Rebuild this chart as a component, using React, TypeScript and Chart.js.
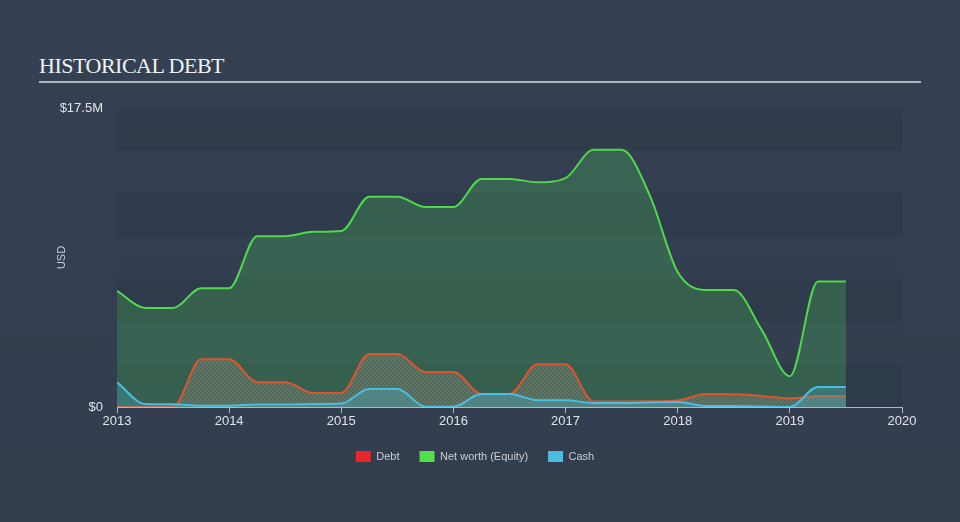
import React, { useEffect, useRef } from "react";
import { Chart, registerables } from "chart.js";

Chart.register(...registerables);

const DATES = [
  2013.0, 2013.25, 2013.5, 2013.75, 2014.0, 2014.25, 2014.5, 2014.75,
  2015.0, 2015.25, 2015.5, 2015.75, 2016.0, 2016.25, 2016.5, 2016.75,
  2017.0, 2017.25, 2017.5, 2017.75, 2018.0, 2018.25, 2018.5, 2018.75,
  2019.0, 2019.25, 2019.5,
];

const DEBT = [
  0, 0, 0, 2.8, 2.8, 1.45, 1.45, 0.82,
  0.82, 3.1, 3.1, 2.05, 2.05, 0.76, 0.76, 2.5,
  2.5, 0.32, 0.32, 0.33, 0.38, 0.76, 0.74, 0.65,
  0.5, 0.63, 0.63,
];

const NET_WORTH = [
  6.8, 5.8, 5.8, 6.95, 6.95, 10.0, 10.0, 10.25,
  10.3, 12.3, 12.3, 11.7, 11.7, 13.35, 13.35, 13.15,
  13.4, 15.05, 15.05, 12.4, 7.9, 6.85, 6.85, 4.5,
  1.8, 7.35, 7.35,
];

const CASH = [
  1.45, 0.18, 0.16, 0.08, 0.08, 0.14, 0.14, 0.17,
  0.2, 1.05, 1.05, 0.02, 0.02, 0.76, 0.76, 0.4,
  0.4, 0.23, 0.23, 0.26, 0.29, 0.06, 0.06, 0.03,
  0.0, 1.17, 1.17,
];

const X_MIN = 2013;
const X_MAX = 2020;
const Y_MAX = 17.5;
const Y_TICKS = [0, 17.5];
const BAND_STEP = 2.5;

const toPoints = (vals: number[]) => DATES.map((d, i) => ({ x: d, y: vals[i] }));

function makeHatch(): CanvasPattern | string {
  const c = document.createElement("canvas");
  c.width = 4;
  c.height = 4;
  const g = c.getContext("2d");
  if (!g) return "rgba(200,100,60,0.4)";
  g.fillStyle = "rgba(150,135,120,0.32)";
  g.fillRect(0, 0, 4, 4);
  g.strokeStyle = "rgba(215,95,55,0.72)";
  g.lineWidth = 1;
  g.beginPath();
  g.moveTo(0, 4);
  g.lineTo(4, 0);
  g.moveTo(-1, 1);
  g.lineTo(1, -1);
  g.moveTo(3, 5);
  g.lineTo(5, 3);
  g.stroke();
  const p = g.createPattern(c, "repeat");
  return p || "rgba(200,100,60,0.4)";
}

const bandsPlugin = {
  id: "bands",
  beforeDraw(chart: any) {
    const { ctx, chartArea, scales } = chart;
    const y = scales.y;
    ctx.save();
    let i = 0;
    for (let v = 0; v < Y_MAX - 1e-9; v += BAND_STEP) {
      const yb = y.getPixelForValue(v);
      const yt = y.getPixelForValue(v + BAND_STEP);
      ctx.fillStyle = i % 2 === 0 ? "rgba(25,35,50,0.13)" : "rgba(60,75,95,0.04)";
      ctx.fillRect(chartArea.left, yt, chartArea.right - chartArea.left, yb - yt);
      i++;
    }
    ctx.restore();
  },
};

export default function App() {
  const ref = useRef<HTMLCanvasElement | null>(null);

  useEffect(() => {
    if (!ref.current) return;
    const hatch = makeHatch();
    const chart = new Chart(ref.current, {
      type: "line",
      data: {
        datasets: [
          {
            label: "Debt",
            data: toPoints(DEBT),
            borderColor: "#dd5430",
            backgroundColor: hatch as any,
            borderWidth: 2,
            fill: "origin",
            pointRadius: 0,
            cubicInterpolationMode: "monotone",
            order: 2,
          },
          {
            label: "Net worth (Equity)",
            data: toPoints(NET_WORTH),
            borderColor: "#4fd84a",
            backgroundColor: "rgba(72,200,90,0.26)",
            borderWidth: 2,
            fill: "origin",
            pointRadius: 0,
            cubicInterpolationMode: "monotone",
            order: 3,
          },
          {
            label: "Cash",
            data: toPoints(CASH),
            borderColor: "#4bbde0",
            backgroundColor: "rgba(70,185,220,0.28)",
            borderWidth: 2,
            fill: "origin",
            pointRadius: 0,
            cubicInterpolationMode: "monotone",
            order: 1,
          },
        ],
      },
      options: {
        animation: false,
        responsive: false,
        maintainAspectRatio: false,
        layout: { padding: { left: 48, right: 58, top: 108, bottom: 50 } },
        plugins: {
          tooltip: { enabled: false },
          legend: {
            position: "bottom",
            labels: {
              color: "#c9ced6",
              font: { family: "Liberation Sans, Arial, sans-serif", size: 11 },
              boxWidth: 15,
              boxHeight: 11,
              padding: 20,
              generateLabels: (ch: any) =>
                ch.data.datasets.map((ds: any, i: number) => ({
                  text: ds.label,
                  fillStyle: ["#e8262a", "#4fe04a", "#4bbde0"][i],
                  strokeStyle: "transparent",
                  lineWidth: 0,
                  fontColor: "#c9ced6",
                  datasetIndex: i,
                  hidden: false,
                })),
            },
          },
        },
        scales: {
          x: {
            type: "linear",
            min: X_MIN,
            max: X_MAX,
            afterFit: (s: any) => {
              s.height = 24;
            },
            ticks: {
              stepSize: 1,
              color: "#dfe3e8",
              padding: 1,
              font: { family: "Liberation Sans, Arial, sans-serif", size: 13 },
              callback: (v: any) => String(v),
            },
            grid: {
              display: true,
              drawOnChartArea: false,
              drawTicks: true,
              tickLength: 6,
              color: "#aeb6c0",
            },
            border: { display: true, color: "#aeb6c0", width: 1 },
          },
          y: {
            min: 0,
            max: Y_MAX,
            afterFit: (s: any) => {
              s.width = 69;
            },
            afterBuildTicks: (s: any) => {
              s.ticks = Y_TICKS.map((v) => ({ value: v }));
            },
            ticks: {
              color: "#dfe3e8",
              padding: 14,
              font: { family: "Liberation Sans, Arial, sans-serif", size: 13 },
              callback: (v: any) => (Number(v) === 0 ? "$0" : `$${v}M`),
            },
            grid: { display: false, drawTicks: false },
            border: { display: false },
            title: {
              display: true,
              text: "USD",
              color: "#c9ced6",
              padding: { top: 7, bottom: 0 },
              font: { family: "Liberation Sans, Arial, sans-serif", size: 11 },
            },
          },
        },
      },
      plugins: [bandsPlugin],
    });
    return () => chart.destroy();
  }, []);

  return (
    <div
      style={{
        position: "fixed",
        left: 0,
        top: 0,
        width: 960,
        height: 522,
        background: "linear-gradient(180deg, #354153 0%, #323d4e 100%)",
        overflow: "hidden",
      }}
    >
      <div
        style={{
          position: "absolute",
          left: 39,
          top: 55,
          fontFamily: "'Liberation Serif', 'Times New Roman', serif",
          fontSize: 22,
          lineHeight: "22px",
          letterSpacing: "-0.5px",
          color: "#f0f2f4",
          whiteSpace: "nowrap",
        }}
      >
        HISTORICAL DEBT
      </div>
      <div
        style={{
          position: "absolute",
          left: 39,
          top: 81,
          width: 882,
          height: 2,
          background: "#aeb5bf",
        }}
      />
      <canvas
        ref={ref}
        width={960}
        height={522}
        style={{ position: "absolute", left: 0, top: 0, width: 960, height: 522 }}
      />
    </div>
  );
}
